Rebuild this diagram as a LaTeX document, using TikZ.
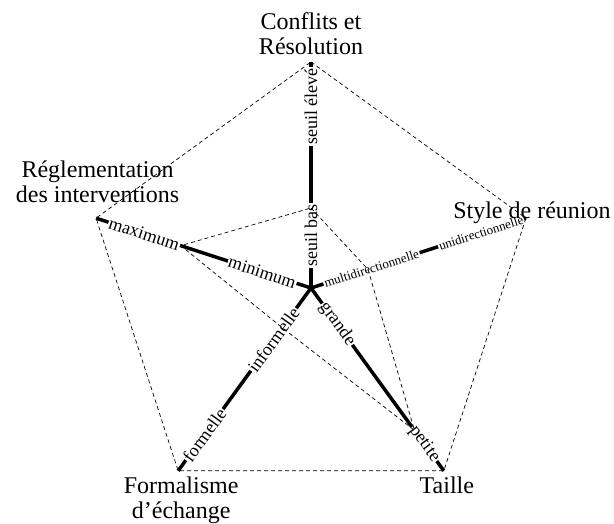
\documentclass[tikz,border=0pt]{standalone}
\usepackage{fontspec}
\setmainfont{Liberation Serif}
\begin{document}
\begin{tikzpicture}[x=1pt, y=1pt,
    axe/.style={line width=3.5pt},
    grille/.style={line width=0.7pt, dash pattern=on 4pt off 3pt},
    lbl/.style={fill=white, inner xsep=1pt, inner ysep=0pt, font=\fontsize{18}{18}\selectfont},
    petit/.style={lbl, font=\fontsize{13}{13}\selectfont},
    titre/.style={align=center, inner sep=0pt, font=\fontsize{24}{25}\selectfont}]

    \useasboundingbox (-311,-236) rectangle (303,288);

    % Sommets du pentagone
    \coordinate (c) at (0,0);
    \coordinate (conf) at (90:226);
    \coordinate (style) at (18:226);
    \coordinate (taille) at (-54:226);
    \coordinate (form) at (-126:226);
    \coordinate (regl) at (162:226);

    % Valeurs
    \coordinate (vconf) at (90:80);
    \coordinate (vstyle) at (18:60);
    \coordinate (vtaille) at (-54:176);
    \coordinate (vform) at (-126:49);
    \coordinate (vregl) at (162:137);

    % Axes
    \foreach \s in {conf, style, taille, form, regl}
        \draw[axe] (c) -- (\s);

    % Graduations
    \node[lbl, rotate=90, anchor=west] (bas) at (90:20) {seuil bas};
    \node[lbl, rotate=90, anchor=east] (eleve) at (90:221) {seuil élevé};
    \node[petit, rotate=18, anchor=west] (multi) at (18:13) {multidirectionnelle};
    \node[petit, rotate=18, anchor=east] (uni) at (18:224) {unidirectionnelle};
    \node[lbl, rotate=-54, anchor=west] (grande) at (-54:19) {grande};
    \node[lbl, rotate=-54, anchor=east] (petite) at (-54:214) {petite};
    \node[lbl, rotate=54, anchor=east] (informelle) at (-126:25) {informelle};
    \node[lbl, rotate=54, anchor=west] (formelle) at (-126:213) {formelle};
    \node[lbl, rotate=-18, anchor=east] (minimum) at (162:15) {minimum};
    \node[lbl, rotate=-18, anchor=west] (maximum) at (162:213) {maximum};

    % Pentagones
    \draw[grille] (conf) -- (style) -- (taille) -- (form) -- (regl) -- cycle;
    \draw[grille] (vconf) -- (vstyle) -- (vtaille) -- (vform) -- (vregl) -- cycle;

    % Titres
    \node[titre, anchor=south, yshift=7pt] (tconf) at (conf) {Conflits et\\Résolution};
    \node[titre, anchor=base, xshift=6pt] (tstyle) at (style) {Style de réunion};
    \node[titre, anchor=north, xshift=3pt, yshift=-6pt] (ttaille) at (taille) {Taille};
    \node[titre, anchor=north, xshift=3pt, yshift=-6pt] (tform) at (form) {Formalisme\\d’échange};
    \node[titre, anchor=south, xshift=1.5pt, yshift=15pt] (tregl) at (regl) {Réglementation\\des interventions};
\end{tikzpicture}
\end{document}
